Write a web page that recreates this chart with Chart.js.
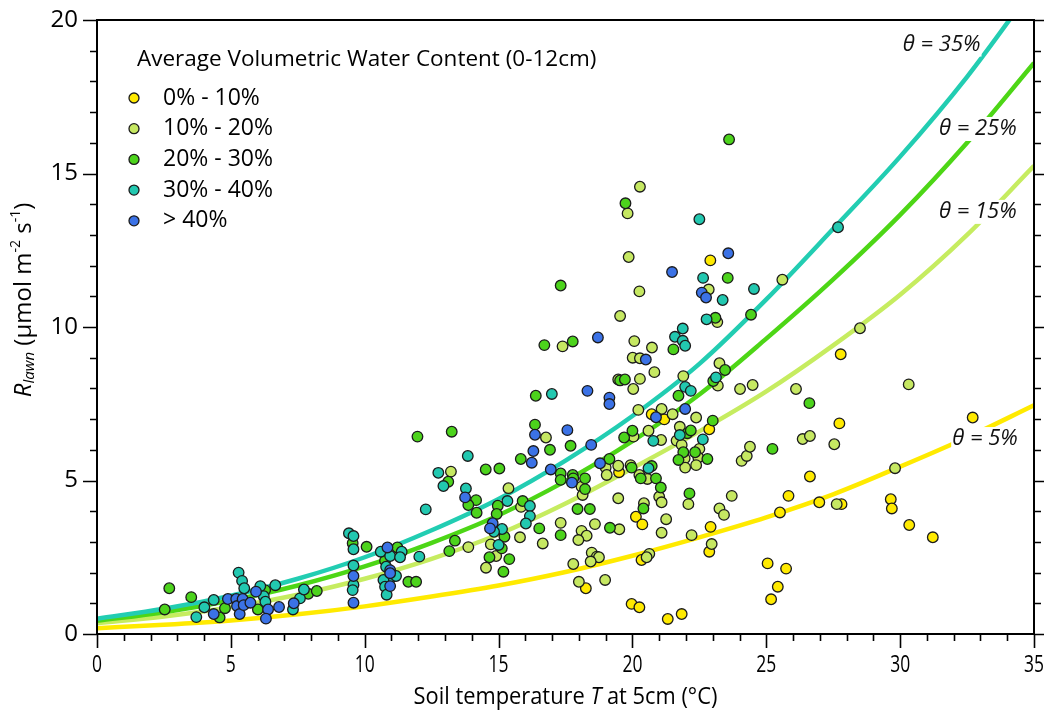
<!DOCTYPE html>
<html><head><meta charset="utf-8">
<script src="https://cdn.jsdelivr.net/npm/chart.js@4.4.1/dist/chart.umd.min.js"></script>
<style>html,body{margin:0;padding:0;background:#fff;}canvas{display:block;}</style>
</head><body>
<canvas id="c" width="1044" height="710" style="width:1044px;height:710px"></canvas>
<script>
// ---------- DATA ----------
const seriesNames = ['0% - 10%', '10% - 20%', '20% - 30%', '30% - 40%', '> 40%'];
const legendTitle = 'Average Volumetric Water Content (0-12cm)';
const xTickValues = [0, 5, 10, 15, 20, 25, 30, 35];
const yTickValues = [0, 5, 10, 15, 20];

// [soil temperature (°C), R_lawn]
const vwc0_10 = [[22.91,12.17],[20.72,7.16],[21.19,6.99],[22.87,6.67],[19.50,5.27],[25.83,4.50],[25.51,3.96],[25.05,2.30],[25.74,2.13],[25.43,1.54],[25.18,1.13],[22.92,3.49],[22.87,2.68],[20.13,3.82],[20.37,3.57],[18.26,1.49],[20.34,2.41],[19.97,0.98],[20.26,0.87],[21.84,0.65],[21.32,0.49],[27.78,9.11],[27.73,6.86],[32.71,7.05],[26.63,5.13],[26.98,4.29],[27.81,4.23],[29.65,4.39],[29.69,4.09],[30.34,3.55],[31.22,3.15]];
const vwc10_20 = [[20.28,14.57],[19.82,13.70],[19.86,12.28],[20.26,11.16],[22.85,11.22],[19.54,10.36],[23.17,10.16],[17.39,9.37],[20.07,9.54],[20.73,9.33],[20.01,9.00],[20.28,8.98],[20.82,8.53],[20.28,8.31],[20.03,7.98],[19.47,8.29],[21.90,8.40],[23.25,8.82],[23.19,8.09],[24.02,7.98],[24.49,8.11],[20.22,7.30],[21.09,7.33],[21.50,7.16],[22.38,7.05],[16.77,6.40],[20.04,6.43],[20.60,6.62],[13.22,5.29],[18.10,4.80],[18.14,4.53],[19.00,5.42],[19.04,5.18],[19.47,5.48],[19.93,5.50],[20.26,5.18],[20.56,5.05],[21.00,4.47],[21.09,4.29],[20.43,4.26],[19.47,4.42],[21.07,6.32],[21.65,6.30],[21.84,6.16],[21.77,6.75],[21.95,5.72],[21.97,5.42],[22.50,6.03],[22.46,5.75],[22.38,5.50],[22.09,4.23],[23.71,4.50],[23.25,4.09],[23.42,3.88],[24.08,5.64],[24.27,5.80],[24.39,6.10],[26.36,6.35],[26.63,6.45],[27.54,6.18],[22.96,2.93],[22.21,3.22],[21.26,3.74],[21.09,3.30],[19.51,3.41],[18.60,3.58],[18.10,3.36],[18.29,3.20],[17.98,3.06],[18.48,2.65],[18.67,2.52],[18.75,2.50],[18.44,2.36],[17.79,2.28],[18.00,1.70],[18.98,1.76],[20.63,2.61],[20.53,2.50],[17.32,3.62],[16.65,2.95],[13.87,2.83],[15.80,3.15],[15.84,4.14],[15.37,4.75],[14.71,2.92],[14.91,2.54],[14.53,2.16],[25.60,11.54],[28.50,9.96],[26.11,7.98],[30.32,8.13],[27.63,4.23],[29.81,5.40]];
const vwc20_30 = [[23.61,16.11],[19.74,14.03],[17.32,11.35],[23.56,11.60],[23.10,10.30],[16.71,9.41],[17.77,9.53],[21.53,9.27],[24.43,10.40],[19.54,8.26],[19.72,8.29],[16.39,7.76],[21.72,7.76],[23.46,8.60],[23.02,8.24],[23.00,6.95],[16.36,6.82],[13.25,6.59],[11.97,6.43],[19.69,6.40],[20.00,6.62],[17.69,6.13],[16.92,6.00],[14.52,5.36],[15.03,5.39],[15.83,5.70],[13.12,4.96],[14.16,4.36],[13.87,4.20],[14.18,3.95],[17.32,5.23],[17.32,5.02],[17.77,5.18],[17.79,5.07],[18.23,5.07],[18.23,4.72],[19.14,5.70],[19.97,5.42],[20.72,5.47],[20.31,5.07],[20.88,5.07],[21.06,4.77],[20.41,4.09],[22.05,6.54],[22.18,6.63],[21.90,5.92],[21.72,5.67],[22.34,5.92],[22.80,5.70],[22.13,4.58],[25.23,6.03],[19.16,3.46],[16.52,3.44],[17.32,3.22],[13.16,2.70],[13.37,3.04],[15.90,4.33],[14.97,4.18],[14.93,3.91],[15.22,3.17],[15.12,2.79],[14.66,2.50],[15.40,2.44],[15.18,2.03],[17.95,4.07],[18.41,4.07],[11.63,1.70],[11.92,1.70],[26.61,7.52],[2.70,1.49],[2.53,0.80],[3.52,1.20],[4.58,0.54],[4.78,0.84],[6.28,1.43],[6.01,0.80],[7.89,1.31],[8.21,1.40],[9.55,2.96],[10.07,2.84],[11.22,2.82],[10.76,2.39]];
const vwc30_40 = [[22.50,13.51],[22.64,11.60],[23.37,10.88],[22.77,10.25],[21.88,9.95],[21.59,9.68],[21.88,9.55],[21.97,9.39],[16.99,7.82],[21.97,8.05],[22.18,7.92],[23.12,8.36],[20.78,6.29],[21.77,6.48],[22.63,6.34],[13.85,5.80],[12.75,5.25],[12.94,4.82],[13.78,4.74],[12.28,4.06],[20.60,5.40],[16.17,4.17],[16.17,3.84],[16.02,3.60],[15.33,4.33],[15.13,3.42],[14.83,3.33],[15.00,2.90],[27.68,13.25],[24.54,11.24],[11.38,2.68],[12.04,2.52],[3.71,0.55],[4.01,0.87],[4.36,1.11],[5.29,2.00],[5.42,1.73],[5.50,1.49],[6.10,1.56],[6.23,1.23],[6.29,1.05],[6.66,1.59],[7.32,0.80],[7.58,1.16],[7.73,1.45],[9.41,3.28],[9.58,3.19],[9.58,2.76],[9.58,2.23],[9.58,1.60],[9.55,1.43],[10.60,2.68],[10.95,2.54],[11.32,2.50],[10.80,2.19],[11.00,1.85],[10.70,1.76],[10.76,1.54],[10.82,1.28],[11.17,1.89]];
const vwcOver40 = [[23.58,12.40],[21.48,11.79],[22.59,11.12],[22.75,10.96],[18.71,9.66],[20.50,8.94],[18.32,7.92],[19.14,7.70],[19.14,7.49],[21.97,7.33],[20.88,7.06],[16.36,6.49],[17.57,6.64],[18.46,6.16],[16.30,5.96],[16.24,5.58],[13.75,4.45],[16.95,5.36],[17.74,4.93],[18.79,5.56],[14.78,3.61],[14.68,3.44],[4.36,0.65],[4.89,1.14],[5.20,1.14],[5.23,0.91],[5.33,0.65],[5.44,1.14],[5.48,0.94],[5.73,1.02],[5.94,1.38],[6.39,0.80],[6.31,0.50],[6.80,0.88],[7.35,1.00],[9.58,1.89],[9.58,1.02],[10.85,2.82],[10.95,2.08],[10.95,1.98],[10.95,1.56]];

// fitted curves
const curveT   = [0, 2.5, 5, 7.5, 10, 12.5, 15, 17.5, 20, 22.5, 25, 27.5, 30, 32.5, 35];
const theta35  = [0.50,0.82,1.25,1.80,2.50,3.38,4.40,5.65,7.10,8.80,10.90,13.20,15.55,18.15,21.10];
const theta25  = [0.43,0.71,1.09,1.58,2.20,2.97,3.87,4.98,6.28,7.80,9.62,11.55,13.65,16.00,18.60];
const theta15  = [0.35,0.57,0.87,1.28,1.80,2.45,3.25,4.25,5.40,6.60,7.90,9.40,11.05,13.00,15.25];
const theta5   = [0.19,0.30,0.44,0.64,0.90,1.22,1.58,2.02,2.55,3.15,3.80,4.55,5.45,6.40,7.45];
const curveLabelText = ['\u03B8 = 35%', '\u03B8 = 25%', '\u03B8 = 15%', '\u03B8 = 5%'];
const curveLabelT = [31.55, 32.9, 32.9, 33.17];
const curveLabelR = [19.2, 16.45, 13.75, 6.35];

// ---------- STYLE ----------
const pointColors = ['#FFEA00', '#C6E862', '#4CD31C', '#22C8B0', '#3B72E6'];
const curveColors = ['#22CDB2', '#4DD616', '#C6EC60', '#FFEA00'];
const FONT = '"Open Sans", "DejaVu Sans", sans-serif';

const toXY = arr => arr.map(p => ({x: p[0], y: p[1]}));
const curveXY = vals => curveT.map((t, i) => ({x: t, y: vals[i]}));
const pointSets = [vwc0_10, vwc10_20, vwc20_30, vwc30_40, vwcOver40];
const curveSets = [theta35, theta25, theta15, theta5];

const datasets = [];
curveSets.forEach((c, i) => datasets.push({
  type: 'line', label: curveLabelText[i], data: curveXY(c), borderColor: curveColors[i],
  borderWidth: 4.5, pointRadius: 0, fill: false, showLine: true,
  cubicInterpolationMode: 'monotone', order: 10 + i
}));
pointSets.forEach((s, i) => datasets.push({
  type: 'scatter', label: seriesNames[i], data: toXY(s), backgroundColor: pointColors[i],
  borderColor: '#1b1b1b', borderWidth: 1.3, pointRadius: 5.3, order: 5 - i
}));

function drawCondensed(ctx, text, x, y, sx) {
  ctx.save(); ctx.translate(x, y); ctx.scale(sx, 1); ctx.fillText(text, 0, 0); ctx.restore();
}

const deco = {
  id: 'deco',
  afterDatasetsDraw(chart) {
    const {ctx, scales: {x, y}} = chart;
    ctx.save();
    ctx.font = 'italic 22px ' + FONT;
    ctx.textAlign = 'center'; ctx.textBaseline = 'middle';
    curveLabelText.forEach((t, i) => {
      const px = x.getPixelForValue(curveLabelT[i]), py = y.getPixelForValue(curveLabelR[i]);
      const w = ctx.measureText(t).width;
      ctx.fillStyle = '#fff'; ctx.fillRect(px - w / 2 - 1, py - 12, w + 2, 24);
      ctx.fillStyle = '#111'; ctx.fillText(t, px, py);
    });
    ctx.restore();
  },
  afterDraw(chart) {
    const {ctx, chartArea: a, scales: {x, y}} = chart;
    ctx.save();
    ctx.strokeStyle = '#000'; ctx.lineWidth = 2;
    ctx.strokeRect(a.left, a.top, a.right - a.left, a.bottom - a.top);
    ctx.lineWidth = 1.6;
    ctx.beginPath();
    for (let i = 0; i <= 35; i++) {
      const px = Math.round(x.getPixelForValue(i)) + 0.5;
      const len = i % 5 === 0 ? 14 : 7;
      ctx.moveTo(px, a.bottom); ctx.lineTo(px, a.bottom + len);
    }
    for (let i = 0; i <= 20; i++) {
      const py = Math.round(y.getPixelForValue(i)) + 0.5;
      const len = i % 5 === 0 ? 14 : 7;
      ctx.moveTo(a.left, py); ctx.lineTo(a.left - len, py);
      ctx.moveTo(a.right, py); ctx.lineTo(a.right + len, py);
    }
    ctx.stroke();
    // x tick labels (condensed)
    ctx.fillStyle = '#000'; ctx.font = '23px ' + FONT;
    ctx.textAlign = 'center'; ctx.textBaseline = 'middle';
    xTickValues.forEach(v => drawCondensed(ctx, String(v), x.getPixelForValue(v), a.bottom + 31, 0.76));
    // y tick labels
    ctx.font = '24px ' + FONT; ctx.textAlign = 'right';
    yTickValues.forEach(v => ctx.fillText(String(v), a.left - 19, y.getPixelForValue(v)));
    // x title
    ctx.textAlign = 'left'; ctx.textBaseline = 'middle';
    const segs = [['Soil temperature ', '24px ' + FONT], ['T', 'italic 24px ' + FONT], [' at 5cm (\u00B0C)', '24px ' + FONT]];
    const sx = 0.91;
    let tw = 0; segs.forEach(s => { ctx.font = s[1]; tw += ctx.measureText(s[0]).width; });
    let cx = (a.left + a.right) / 2 - tw * sx / 2;
    segs.forEach(s => { ctx.font = s[1]; drawCondensed(ctx, s[0], cx, 697, sx); cx += ctx.measureText(s[0]).width * sx; });
    // y title (rotated)
    ctx.save();
    ctx.translate(24, 300); ctx.rotate(-Math.PI / 2);
    const ys = [['R', 'italic 24px ' + FONT, 0], ['lawn', 'italic 15px ' + FONT, 6], [' (\u03BCmol m', '24px ' + FONT, 0], ['-2', '14px ' + FONT, -8], [' s', '24px ' + FONT, 0], ['-1', '14px ' + FONT, -8], [')', '24px ' + FONT, 0]];
    let yw = 0; ys.forEach(s => { ctx.font = s[1]; yw += ctx.measureText(s[0]).width; });
    let yx = -yw / 2;
    ys.forEach(s => { ctx.font = s[1]; ctx.fillText(s[0], yx, s[2]); yx += ctx.measureText(s[0]).width; });
    ctx.restore();
    // legend
    ctx.font = '22.5px ' + FONT; ctx.textAlign = 'left'; ctx.textBaseline = 'middle'; ctx.fillStyle = '#000';
    ctx.fillText(legendTitle, a.left + 40, a.top + 40);
    ctx.font = '23px ' + FONT;
    seriesNames.forEach((n, i) => {
      const cy = a.top + 78 + i * 30.7;
      ctx.beginPath(); ctx.arc(a.left + 37, cy, 5, 0, Math.PI * 2);
      ctx.fillStyle = pointColors[i]; ctx.fill();
      ctx.lineWidth = 1.3; ctx.strokeStyle = '#1b1b1b'; ctx.stroke();
      ctx.fillStyle = '#000'; ctx.fillText(n, a.left + 66, cy);
    });
    ctx.restore();
  }
};

new Chart(document.getElementById('c'), {
  type: 'scatter',
  data: {datasets},
  options: {
    responsive: false, animation: false, events: [],
    layout: {padding: {left: 0, right: 10, top: 20, bottom: 0}},
    plugins: {legend: {display: false}, tooltip: {enabled: false}},
    scales: {
      x: {type: 'linear', min: 0, max: 35, ticks: {display: false, stepSize: 5},
          grid: {display: false}, border: {display: false}, afterFit(s) { s.height = 76; }},
      y: {type: 'linear', min: 0, max: 20, ticks: {display: false, stepSize: 5},
          grid: {display: false}, border: {display: false}, afterFit(s) { s.width = 97; }}
    }
  },
  plugins: [deco]
});
</script></body></html>
